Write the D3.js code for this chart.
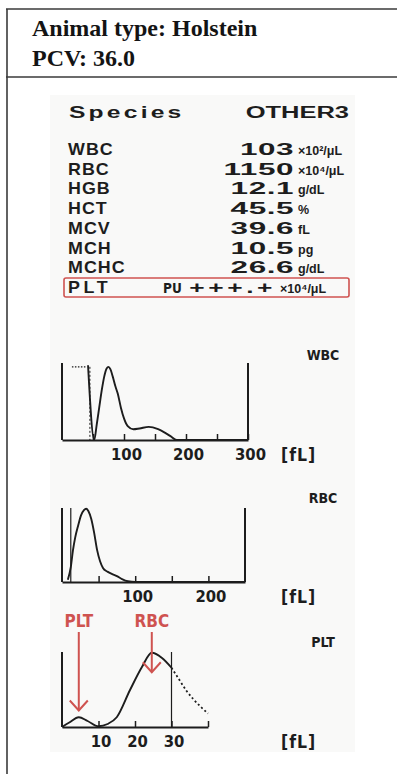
<!DOCTYPE html>
<html>
<head>
<meta charset="utf-8">
<script src="https://cdn.jsdelivr.net/npm/d3@7"></script>
<style>
	body { margin: 0; background: #fff; }
	svg { display: block; }
</style>
</head>
<body>
<script>
	'use strict';

	// header
	var headerLines = ['Animal type: Holstein', 'PCV: 36.0'];

	// printout table
	var speciesRow = ['Species', 'OTHER3'];
	var params = ['WBC', 'RBC', 'HGB', 'HCT', 'MCV', 'MCH', 'MCHC'];
	var values = ['103', '1150', '12.1', '45.5', '39.6', '10.5', '26.6'];
	var units = ['×10²/μL', '×10⁴/μL', 'g/dL', '%', 'fL', 'pg', 'g/dL'];
	var pltRow = ['PLT', 'PU', '+++.+', '×10⁴/μL'];

	// WBC histogram (fL, relative count)
	var wbcFl = [42, 52, 56, 60, 64, 68, 72, 75, 78, 82, 86, 90, 95, 100, 106, 115, 125, 140, 155, 165, 175, 185, 200, 300];
	var wbcCount = [97, 0, 20, 42, 64, 82, 93, 95, 92, 82, 70, 60, 42, 28, 18, 14, 15, 17, 14, 10, 5, 0, 0, 0];
	var wbcTicks = [50, 100, 150, 200, 250, 300];
	var wbcLabels = [100, 200, 300];

	// RBC histogram
	var rbcFl = [8, 12, 15, 18, 22, 26, 30, 33, 36, 40, 44, 48, 52, 56, 62, 68, 75, 82, 90, 100, 250];
	var rbcCount = [3, 20, 43, 60, 76, 90, 97, 99, 96, 85, 66, 43, 28, 19, 14, 11, 8, 4, 1, 0, 0];
	var rbcTicks = [50, 100, 150, 200];
	var rbcLabels = [100, 200];

	// PLT histogram
	var pltFl = [0, 2, 4.6, 7, 10, 12.5, 15, 18.6, 21.9, 24.6, 27.4, 30];
	var pltCount = [0, 6, 13, 8, 1, 4, 13, 49, 80, 99, 92, 79];
	var pltTailFl = [30, 32, 34, 36, 38, 40];
	var pltTailCount = [79, 64, 49, 37, 27, 18];
	var pltTicks = [10, 20, 30, 40];
	var pltLabels = [10, 20, 30];
	var pltArrows = [{label: 'PLT', fl: 4.6, tip: 22}, {label: 'RBC', fl: 24.6, tip: 73}];

	var ink = '#1d1d1d';
	var red = '#cf5350';
	var printFont = '"Liberation Sans", Arial, sans-serif';
	var narrowFont = '"Liberation Sans Narrow", "DejaVu Sans Condensed", sans-serif';

	var svg = d3.select('body').append('svg')
		.attr('width', 397)
		.attr('height', 774);

	// Outer table frame
	svg.append('rect').attr('x', 50).attr('y', 95).attr('width', 305).attr('height', 657)
		.attr('fill', '#f9f9f8');
	var frame = svg.append('g').attr('stroke', '#3a3a3a').attr('stroke-width', 1.6);
	frame.append('line').attr('x1', 6).attr('x2', 397).attr('y1', 9).attr('y2', 9);
	frame.append('line').attr('x1', 6).attr('x2', 397).attr('y1', 77).attr('y2', 77);
	frame.append('line').attr('x1', 7).attr('x2', 7).attr('y1', 9).attr('y2', 774);

	svg.selectAll('.head')
		.data(headerLines)
		.enter().append('text')
			.attr('x', 32)
			.attr('y', function(d, i) { return 36 + i * 30; })
			.attr('font-family', '"Liberation Serif", "Times New Roman", serif')
			.attr('font-weight', 'bold')
			.attr('font-size', 24)
			.attr('fill', '#141414')
			.text(function(d) { return d; });

	// printer style text
	function ptext(g, x, y, str, o) {
		return g.append('text')
			.attr('transform', 'translate(' + x + ',' + y + ') scale(' + (o.sx || 1) + ',1)')
			.attr('text-anchor', o.anchor || 'start')
			.attr('font-family', o.font || printFont)
			.attr('font-weight', 'bold')
			.attr('font-size', o.size || 17)
			.attr('fill', o.fill || ink)
			.style('letter-spacing', (o.ls || 0) + 'px')
			.text(str);
	}

	var table = svg.append('g');
	ptext(table, 69, 118, speciesRow[0], {sx: 1.45, ls: 2.2});
	ptext(table, 349, 118, speciesRow[1], {sx: 1.5, anchor: 'end'});

	var rowY = d3.scalePoint().domain(params.concat([pltRow[0]])).range([155, 293]);

	params.forEach(function(p, i) {
		ptext(table, 68, rowY(p), p, {sx: 1.05, ls: 1, size: 17});
		ptext(table, 294, rowY(p), values[i], {sx: 1.85, ls: 0.3, anchor: 'end'});
		ptext(table, 298, rowY(p), units[i], {size: 12.5});
	});

	var py = rowY(pltRow[0]);
	table.append('rect')
		.attr('x', 64).attr('y', py - 15).attr('width', 285).attr('height', 19).attr('rx', 2)
		.attr('fill', 'none').attr('stroke', red).attr('stroke-width', 1.6);
	ptext(table, 68, py, pltRow[0], {sx: 1.05, ls: 3.5, size: 17});
	ptext(table, 163, py, pltRow[1], {font: narrowFont, size: 13.5});
	ptext(table, 276, py, pltRow[2], {sx: 1.55, ls: 2.3, anchor: 'end'});
	ptext(table, 280, py, pltRow[3], {size: 12.5});

	// histogram
	function histogram(cfg) {
		var g = svg.append('g');
		var x = d3.scaleLinear().domain(cfg.domain).range(cfg.range);
		var y = d3.scaleLinear().domain([0, 100]).range([cfg.axisY, cfg.topY]);

		var line = d3.line()
			.curve(d3.curveMonotoneX)
			.x(function(d) { return x(d[0]); })
			.y(function(d) { return y(d[1]); });

		g.append('path')
			.datum(d3.zip(cfg.fl, cfg.count))
			.attr('fill', 'none')
			.attr('stroke', ink)
			.attr('stroke-width', 1.9)
			.attr('d', line);

		if (cfg.tailFl) {
			g.append('path')
				.datum(d3.zip(cfg.tailFl, cfg.tailCount))
				.attr('fill', 'none')
				.attr('stroke', ink)
				.attr('stroke-width', 1.8)
				.attr('stroke-dasharray', '2,2.5')
				.attr('d', line);
		}

		// frame verticals
		cfg.walls.forEach(function(w) {
			g.append('line')
				.attr('x1', x(w[0])).attr('x2', x(w[0]))
				.attr('y1', y(100)).attr('y2', y(0))
				.attr('stroke', ink)
				.attr('stroke-width', w[1]);
		});

		var axis = d3.axisBottom(x)
			.tickValues(cfg.ticks)
			.tickSizeInner(-6)
			.tickSizeOuter(0)
			.tickPadding(8)
			.tickFormat(function(d) { return cfg.labels.indexOf(d) >= 0 ? d : ''; });

		var ga = g.append('g')
			.attr('transform', 'translate(0,' + cfg.axisY + ')')
			.call(axis);
		ga.select('.domain').attr('stroke', ink).attr('stroke-width', 2);
		ga.selectAll('.tick line').attr('stroke', ink).attr('stroke-width', 1.5);
		ga.selectAll('.tick text')
			.attr('fill', ink)
			.attr('font-family', narrowFont)
			.attr('font-weight', 'bold')
			.attr('font-size', 16.5)
			.attr('dx', 2);

		ptext(g, 281, cfg.axisY + 21, '[fL]', {font: narrowFont, size: 17.5, ls: 1});
		ptext(g, 323, cfg.nameY, cfg.name, {font: narrowFont, size: 14, anchor: 'middle'});

		return {g: g, x: x, y: y};
	}

	var wbc = histogram({
		name: 'WBC', nameY: 360,
		domain: [0, 300], range: [62, 248], topY: 363, axisY: 440,
		fl: wbcFl, count: wbcCount,
		ticks: wbcTicks, labels: wbcLabels,
		walls: [[0, 2], [300, 2]]
	});
	// gate marks on the WBC plot
	wbc.g.append('line')
		.attr('x1', wbc.x(16)).attr('x2', wbc.x(40))
		.attr('y1', wbc.y(95)).attr('y2', wbc.y(95))
		.attr('stroke', ink).attr('stroke-width', 1.4).attr('stroke-dasharray', '1.5,1.5');
	wbc.g.append('line')
		.attr('x1', wbc.x(45)).attr('x2', wbc.x(45))
		.attr('y1', wbc.y(95)).attr('y2', wbc.y(0))
		.attr('stroke', ink).attr('stroke-width', 1).attr('stroke-dasharray', '2,2');

	histogram({
		name: 'RBC', nameY: 503,
		domain: [0, 250], range: [62, 245], topY: 508, axisY: 582,
		fl: rbcFl, count: rbcCount,
		ticks: rbcTicks, labels: rbcLabels,
		walls: [[0, 2], [12, 1.2], [250, 2]]
	});

	var plt = histogram({
		name: 'PLT', nameY: 647,
		domain: [0, 40], range: [62, 208], topY: 652, axisY: 727,
		fl: pltFl, count: pltCount, tailFl: pltTailFl, tailCount: pltTailCount,
		ticks: pltTicks, labels: pltLabels,
		walls: [[0, 2], [30, 1.2]]
	});

	// red arrows
	var arrows = plt.g.selectAll('.arrow')
		.data(pltArrows)
		.enter().append('g')
			.attr('class', 'arrow');
	arrows.append('text')
		.attr('x', function(d) { return plt.x(d.fl); })
		.attr('y', 627)
		.attr('text-anchor', 'middle')
		.attr('font-family', narrowFont)
		.attr('font-weight', 'bold')
		.attr('font-size', 17)
		.attr('fill', red)
		.text(function(d) { return d.label; });
	arrows.append('line')
		.attr('x1', function(d) { return plt.x(d.fl); })
		.attr('x2', function(d) { return plt.x(d.fl); })
		.attr('y1', 632)
		.attr('y2', function(d) { return plt.y(d.tip); })
		.attr('stroke', red).attr('stroke-width', 2);
	arrows.append('path')
		.attr('d', function(d) {
			var tx = plt.x(d.fl), ty = plt.y(d.tip);
			return 'M' + (tx - 9) + ',' + (ty - 10) + 'L' + tx + ',' + ty + 'L' + (tx + 9) + ',' + (ty - 10);
		})
		.attr('fill', 'none').attr('stroke', red).attr('stroke-width', 2);
</script>
</body>
</html>
